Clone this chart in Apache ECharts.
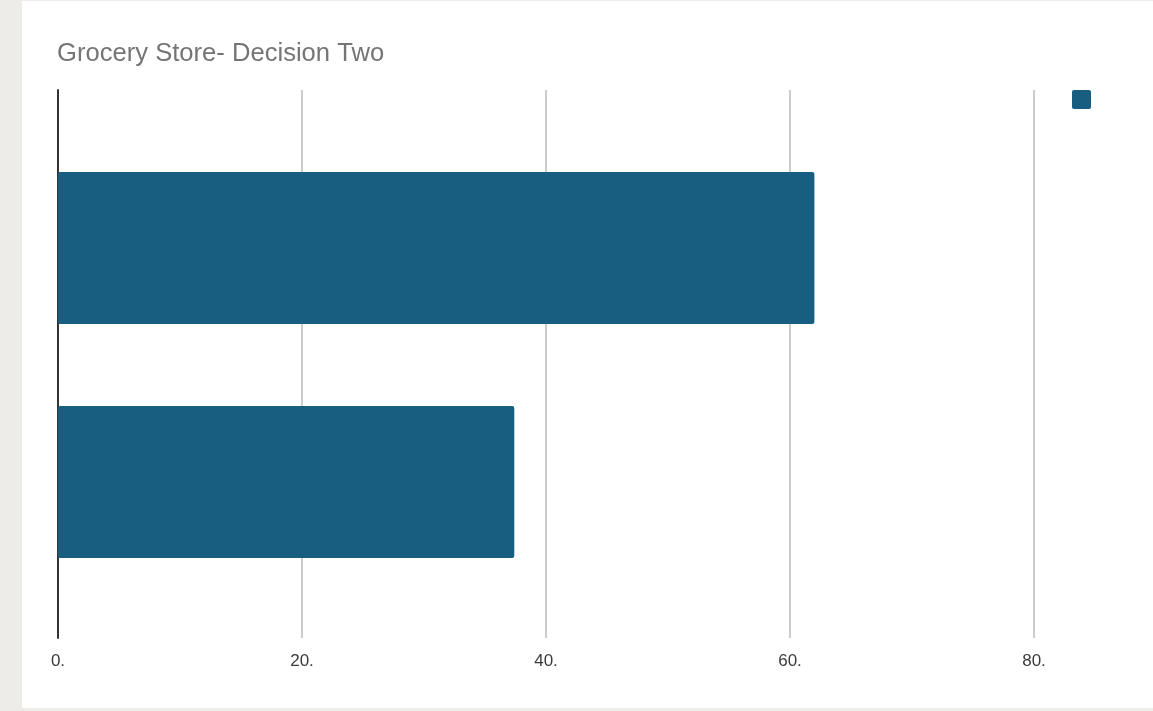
<!DOCTYPE html>
<html>
<head>
<meta charset="utf-8">
<script src="https://cdn.jsdelivr.net/npm/echarts@6/dist/echarts.min.js"></script>
<style>
  html, body { margin: 0; padding: 0; background: #edece8; }
  #card { position: absolute; left: 22px; top: 1px; width: 1131px; height: 707px; background: #ffffff; }
  #chart { position: absolute; left: 0; top: 0; width: 1153px; height: 711px; }
</style>
</head>
<body>
<div id="card"></div>
<div id="chart"></div>
<script>
// Chart content
const titleText = 'Grocery Store- Decision Two';
const categories = ['Option A', 'Option B'];
const seriesName = 'Responses';
const seriesValues = [62, 37.4];
const tickValues = [0, 20, 40, 60, 80];

const barColor = '#175e80';
const font = 'Liberation Sans, Arial, sans-serif';

const chart = echarts.init(document.getElementById('chart'), null, { renderer: 'canvas' });

chart.setOption({
  backgroundColor: 'transparent',
  animation: false,
  title: {
    text: titleText,
    left: 57,
    top: 41,
    padding: 0,
    textStyle: { color: '#757575', fontSize: 25.6, fontWeight: 'normal', fontFamily: font }
  },
  legend: {
    left: 1072,
    top: 90,
    padding: 0,
    itemWidth: 19,
    itemHeight: 19,
    icon: 'path://M2,0 H17 Q19,0 19,2 V17 Q19,19 17,19 H2 Q0,19 0,17 V2 Q0,0 2,0 Z',
    formatter: () => '',
    data: [{ name: seriesName, itemStyle: { color: barColor } }]
  },
  grid: [
    // full-height grid: gridlines, tick labels and the zero axis line
    { left: 58, top: 90, width: 976, height: 548 },
    // inner grid that holds the bars
    { left: 58, top: 131, width: 976, height: 468 }
  ],
  xAxis: [
    {
      gridIndex: 0,
      type: 'value',
      min: tickValues[0],
      max: tickValues[tickValues.length - 1],
      interval: tickValues[1] - tickValues[0],
      axisLine: { show: false },
      axisTick: { show: false },
      splitLine: { show: true, lineStyle: { color: '#cccccc', width: 2 } },
      axisLabel: {
        margin: 15,
        color: '#3a3a3a',
        fontSize: 17,
        fontFamily: font,
        formatter: v => v + '.'
      }
    },
    {
      gridIndex: 1,
      type: 'value',
      min: tickValues[0],
      max: tickValues[tickValues.length - 1],
      show: false,
      splitLine: { show: false }
    }
  ],
  yAxis: [
    {
      gridIndex: 0,
      type: 'category',
      data: categories,
      inverse: true,
      axisLine: { show: true, lineStyle: { color: '#333333', width: 2 } },
      axisTick: { show: false },
      axisLabel: { show: false },
      splitLine: { show: false }
    },
    {
      gridIndex: 1,
      type: 'category',
      data: categories,
      inverse: true,
      show: false
    }
  ],
  series: [
    {
      name: seriesName,
      type: 'bar',
      xAxisIndex: 1,
      yAxisIndex: 1,
      data: seriesValues,
      barWidth: '65%',
      itemStyle: { color: barColor, borderRadius: 2 },
      z: 5
    }
  ]
});
</script>
</body>
</html>
